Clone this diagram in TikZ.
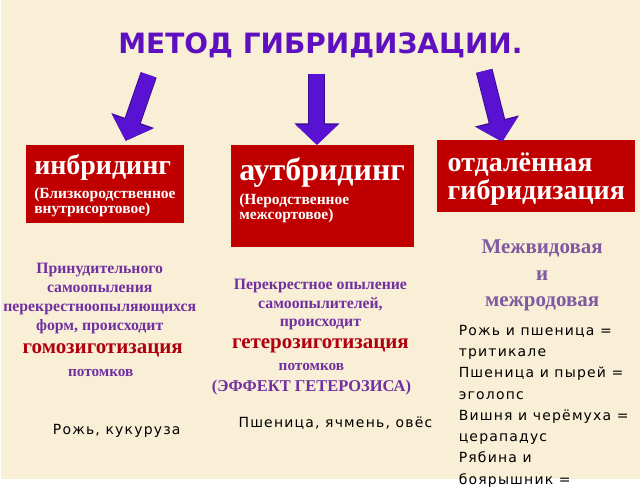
\documentclass[tikz,border=0pt]{standalone}
\usepackage{fontspec}
\setmainfont{Liberation Serif}
\newfontfamily\titlefont{DejaVu Sans}
\newfontfamily\plainfont[LetterSpace=8.5]{DejaVu Sans}
\usetikzlibrary{arrows.meta}

\definecolor{bgcream}{HTML}{F9EED6}
\definecolor{boxred}{HTML}{C00000}
\definecolor{arrowviolet}{HTML}{5A12D2}
\definecolor{arrowedge}{HTML}{3C0C98}
\definecolor{titleviolet}{HTML}{5E10C0}
\definecolor{notepurple}{HTML}{7030A0}
\definecolor{softpurple}{HTML}{7F5AA0}
\definecolor{keyred}{HTML}{B00010}

\newcommand{\headfont}{\bfseries\fontsize{28}{30}\selectfont}
\newcommand{\subfont}{\bfseries\fontsize{15.5}{15}\selectfont}
\newcommand{\notefont}{\bfseries\fontsize{15.8}{18.8}\selectfont}
\newcommand{\keyfont}{\bfseries\fontsize{21}{22}\selectfont}
\newcommand{\examplefont}{\plainfont\fontsize{14}{21.3}\selectfont}

\begin{document}
\begin{tikzpicture}[x=1pt,y=-1pt,
    redbox/.style={fill=boxred,text=white,align=left,inner sep=0pt,anchor=north west,font=\subfont},
    blockarrow/.style={line width=15pt,draw=arrowviolet,-{Triangle[width=41pt,length=20pt]},
      preaction={draw=arrowedge,line width=17pt,-{Triangle[width=44pt,length=21.5pt]}}},
    note/.style={text=notepurple,align=center,font=\notefont},
    keyword/.style={text=keyred,font=\keyfont},
    example/.style={text=black,align=left,font=\examplefont}]
  \fill[bgcream] (0,0) rectangle (640,480);
  \node[text=titleviolet,font=\titlefont\bfseries\fontsize{28}{30}\selectfont] (title) at (320,45) {МЕТОД ГИБРИДИЗАЦИИ.};

  % the three kinds of crossing
  \node[redbox,minimum width=158pt,minimum height=78pt,text depth=-10pt] (inbr) at (25,145)
    {{\headfont инбридинг}\\[6pt](Близкородственное\\внутрисортовое)};
  \node[redbox,minimum width=183pt,minimum height=102pt,text depth=15pt] (outbr) at (230,145)
    {{\headfont\fontsize{32}{32}\selectfont аутбридинг}\\[6pt](Неродственное\\межсортовое)};
  \node[redbox,minimum width=198pt,minimum height=72pt,text depth=-2pt,font=\bfseries\fontsize{28}{28}\selectfont] (dist) at (437,140)
    {отдалённая\\гибридизация};

  \coordinate (from1) at (148,75);
  \coordinate (to1) at (125,141);
  \coordinate (from2) at (316.5,74);
  \coordinate (to2) at (316.5,145);
  \coordinate (from3) at (484,71);
  \coordinate (to3) at (502,142);
  \draw[blockarrow] (from1) -- (to1);
  \draw[blockarrow] (from2) -- (to2);
  \draw[blockarrow] (from3) -- (to3);

  % inbreeding
  \node[note] (inbrnote) at (99,299) {Принудительного\\самоопыления\\перекрестноопыляющихся\\форм, происходит};
  \node[keyword] (homoz) at (102,351) {гомозиготизация};
  \node[note,font=\bfseries\fontsize{15.3}{15}\selectfont] (homozend) at (100,373) {потомков};
  \node[example] (inbrex) at (116,431) {Рожь, кукуруза};

  % outbreeding
  \node[note] (outbrnote) at (320,305) {Перекрестное опыление\\самоопылителей,\\происходит};
  \node[keyword] (heteroz) at (320,346) {гетерозиготизация};
  \node[note,font=\bfseries\fontsize{16.5}{21}\selectfont] (heterozend) at (311,380) {{\fontsize{15.3}{21}\selectfont потомков}\\(ЭФФЕКТ ГЕТЕРОЗИСА)};
  \node[example] (outbrex) at (335,424) {Пшеница, ячмень, овёс};

  % distant hybridization
  \node[text=softpurple,align=center,font=\bfseries\fontsize{21}{26.5}\selectfont] (distnote) at (542,276) {Межвидовая\\и\\межродовая};
  \node[example,anchor=north west] (distex) at (455,322)
    {Рожь и пшеница =\\тритикале\\Пшеница и пырей =\\эголопс\\Вишня и черёмуха =\\церападус\\Рябина и\\боярышник =};
\end{tikzpicture}
\end{document}
